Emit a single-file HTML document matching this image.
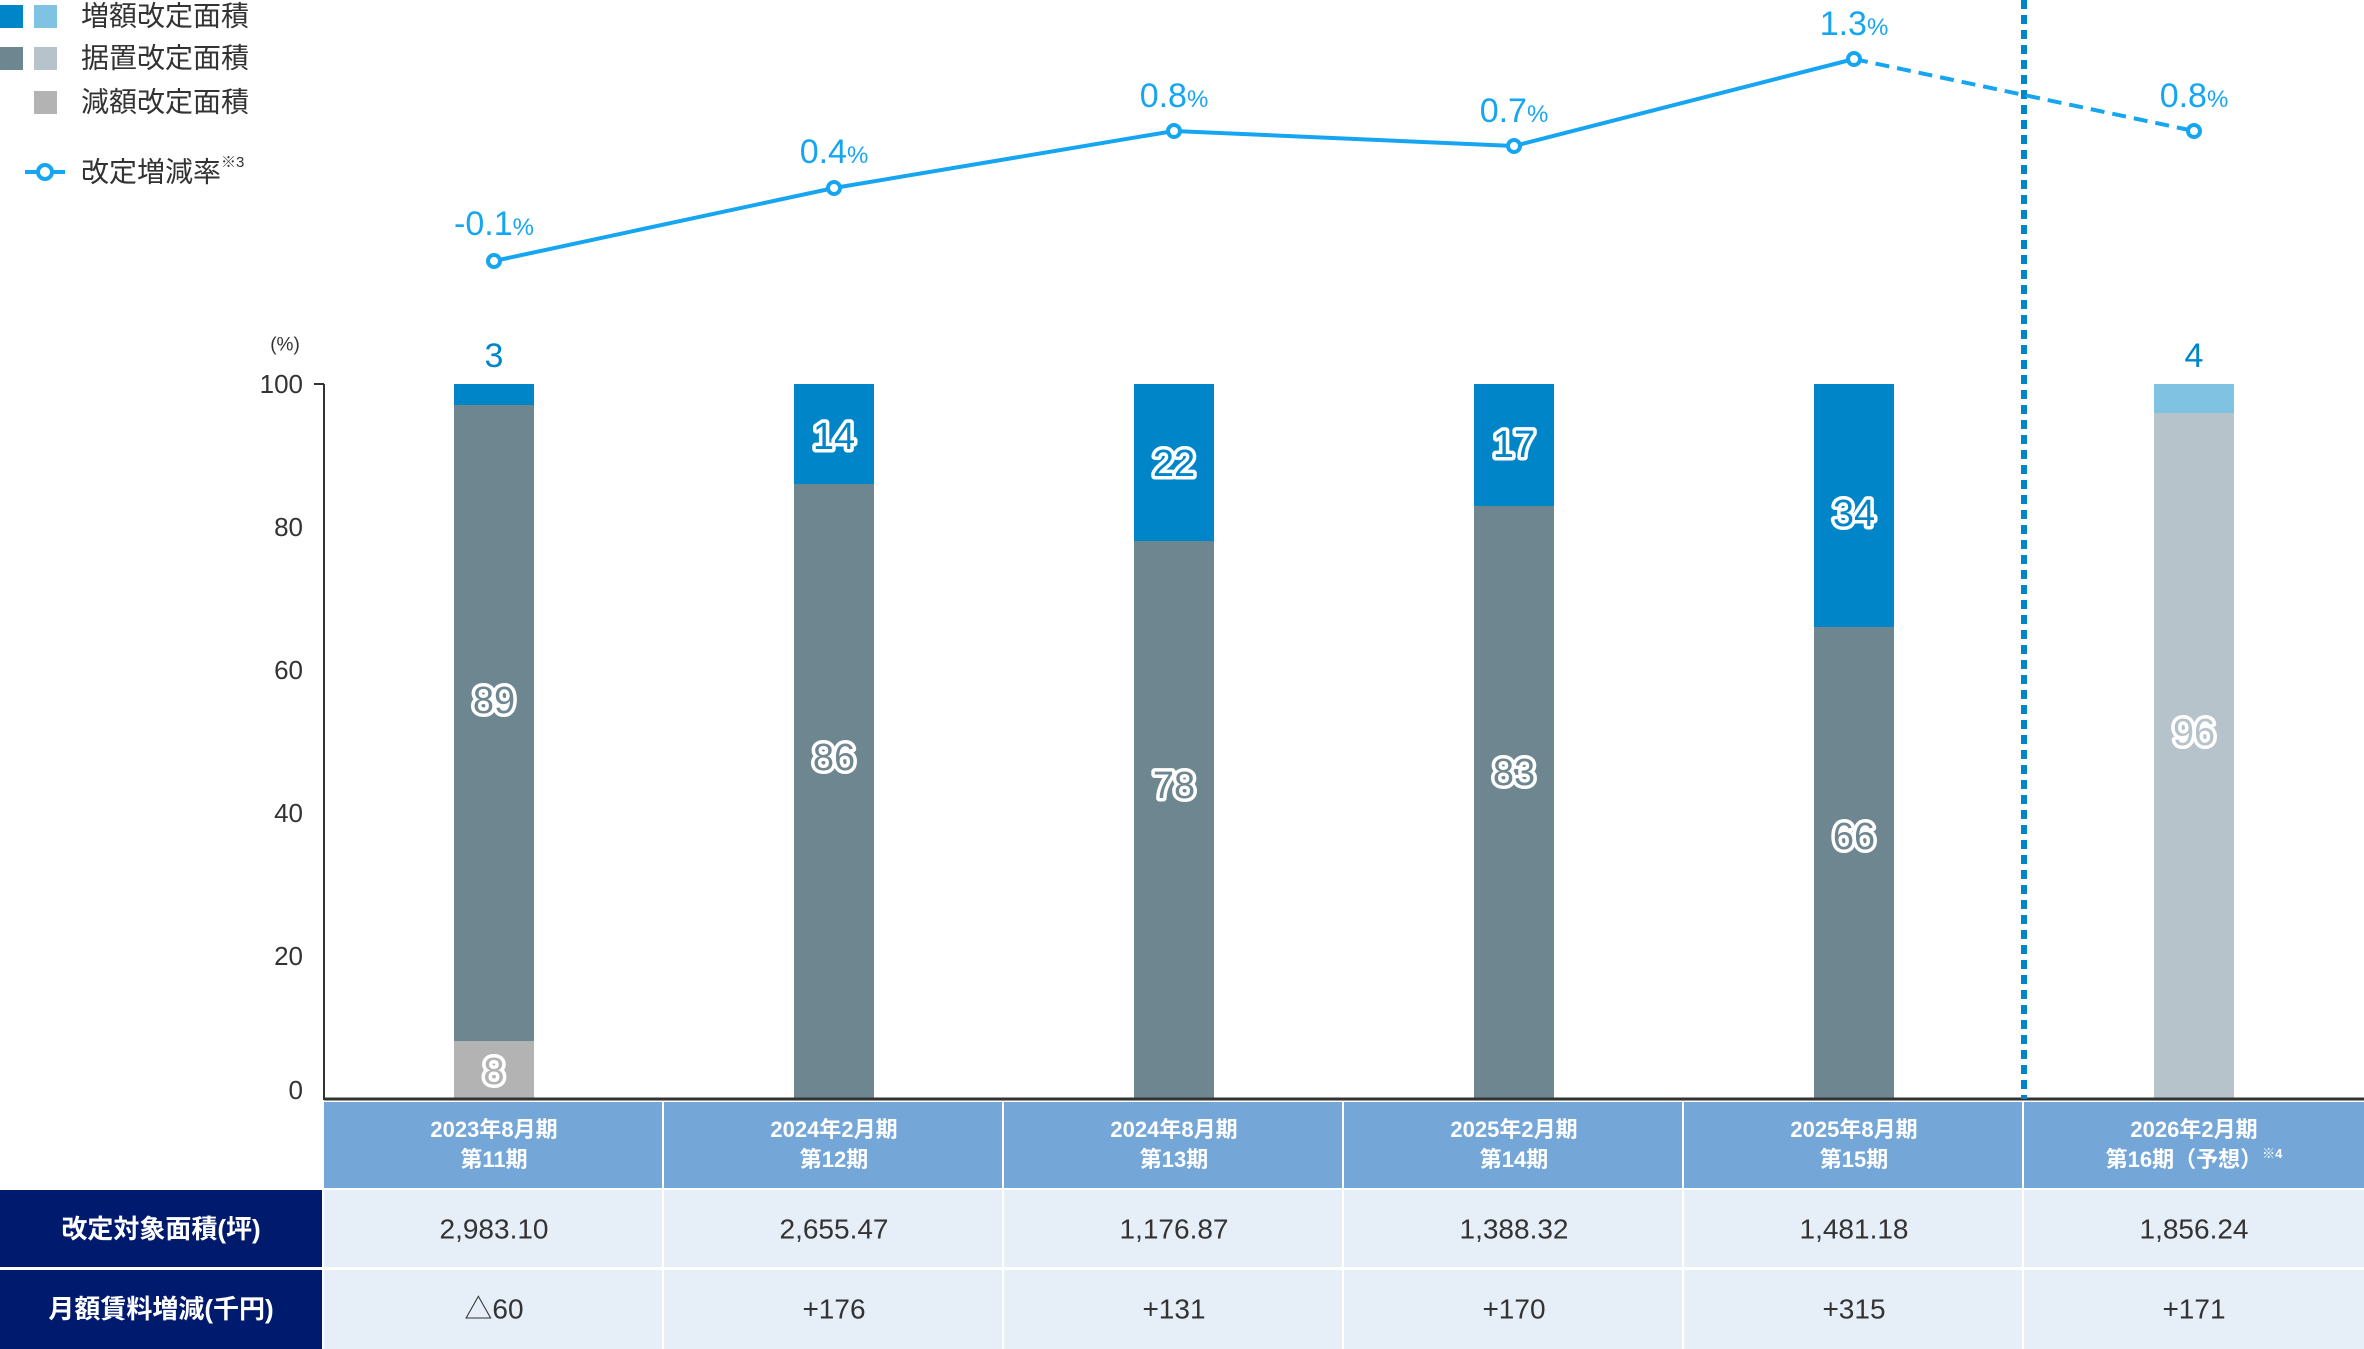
<!DOCTYPE html>
<html><head><meta charset="utf-8"><style>
html,body{margin:0;padding:0;background:#fff}
svg{display:block}
text{font-family:"Liberation Sans","Noto Sans CJK JP",sans-serif}
.lbl{font-size:38px;fill:#6e8690;stroke:#fff;stroke-width:7px;paint-order:stroke;stroke-linejoin:round;text-anchor:middle;dominant-baseline:central}
.lblb{fill:#0085c8}
.pct{font-size:34px;fill:#16a5f0;text-anchor:middle}
.tick{font-size:26px;fill:#333;text-anchor:end;dominant-baseline:central}
.hd{font-size:22px;fill:#fff;text-anchor:middle;font-weight:bold}
.cell{font-size:28px;fill:#333;text-anchor:middle;dominant-baseline:central}
.rl{font-size:26px;fill:#fff;text-anchor:middle;dominant-baseline:central;font-weight:bold}
.leg{font-size:28px;fill:#333;dominant-baseline:central}
</style></head><body>
<svg width="2364" height="1349" viewBox="0 0 2364 1349" xmlns="http://www.w3.org/2000/svg">
<!-- legend -->
<rect x="0" y="5" width="23" height="23" fill="#0085c8"/><rect x="34" y="5" width="23" height="23" fill="#80c2e2"/>
<rect x="0" y="47" width="23" height="23" fill="#6e8690"/><rect x="34" y="47" width="23" height="23" fill="#b7c3ca"/>
<rect x="34" y="91" width="23" height="23" fill="#b3b3b3"/>
<text class="leg" x="81" y="16">増額改定面積</text>
<text class="leg" x="81" y="58">据置改定面積</text>
<text class="leg" x="81" y="102">減額改定面積</text>
<line x1="25" y1="172" x2="65" y2="172" stroke="#16a5f0" stroke-width="4"/>
<circle cx="45" cy="172" r="7" fill="#fff" stroke="#16a5f0" stroke-width="4"/>
<text class="leg" x="81" y="172">改定増減率<tspan font-size="15" dy="-10">※3</tspan></text>

<!-- y axis -->
<text x="285" y="345" font-size="19" fill="#333" text-anchor="middle" dominant-baseline="central">(%)</text>
<text class="tick" x="303" y="384">100</text>
<text class="tick" x="303" y="527">80</text>
<text class="tick" x="303" y="670">60</text>
<text class="tick" x="303" y="813">40</text>
<text class="tick" x="303" y="956">20</text>
<text class="tick" x="303" y="1090">0</text>
<line x1="324" y1="384" x2="324" y2="1100" stroke="#333" stroke-width="2"/>
<line x1="314" y1="384" x2="324" y2="384" stroke="#333" stroke-width="2"/>

<!-- bars -->
<rect x="454" y="384" width="80" height="21" fill="#0085c8"/>
<rect x="454" y="405" width="80" height="636" fill="#6e8690"/>
<rect x="454" y="1041" width="80" height="58" fill="#b3b3b3"/>
<rect x="794" y="384" width="80" height="100" fill="#0085c8"/>
<rect x="794" y="484" width="80" height="615" fill="#6e8690"/>
<rect x="1134" y="384" width="80" height="157" fill="#0085c8"/>
<rect x="1134" y="541" width="80" height="558" fill="#6e8690"/>
<rect x="1474" y="384" width="80" height="122" fill="#0085c8"/>
<rect x="1474" y="506" width="80" height="593" fill="#6e8690"/>
<rect x="1814" y="384" width="80" height="243" fill="#0085c8"/>
<rect x="1814" y="627" width="80" height="472" fill="#6e8690"/>
<rect x="2154" y="384" width="80" height="29" fill="#80c2e2"/>
<rect x="2154" y="413" width="80" height="686" fill="#b7c3ca"/>
<line x1="324" y1="1099" x2="2364" y2="1099" stroke="#333" stroke-width="3"/>

<text class="lbl" x="494" y="701">89</text>
<text class="lbl" x="494" y="1072" style="fill:#b3b3b3">8</text>
<text class="lbl lblb" x="834" y="437">14</text>
<text class="lbl" x="834" y="758">86</text>
<text class="lbl lblb" x="1174" y="464">22</text>
<text class="lbl" x="1174" y="786">78</text>
<text class="lbl lblb" x="1514" y="445">17</text>
<text class="lbl" x="1514" y="773">83</text>
<text class="lbl lblb" x="1854" y="514">34</text>
<text class="lbl" x="1854" y="837">66</text>
<text class="lbl" x="2194" y="733" style="fill:#b7c3ca">96</text>
<text x="494" y="356" font-size="34" fill="#0085c8" text-anchor="middle" dominant-baseline="central">3</text>
<text x="2194" y="356" font-size="34" fill="#0085c8" text-anchor="middle" dominant-baseline="central">4</text>

<!-- dashed divider -->
<line x1="2024" y1="0" x2="2024" y2="1099" stroke="#0085c8" stroke-width="6" stroke-dasharray="9,6"/>

<!-- line -->
<polyline points="494,261 834,188 1174,131 1514,146 1854,59" fill="none" stroke="#16a5f0" stroke-width="4"/>
<line x1="1854" y1="59" x2="2194" y2="131" stroke="#16a5f0" stroke-width="4" stroke-dasharray="14,8"/>
<g fill="#fff" stroke="#16a5f0" stroke-width="4">
<circle cx="494" cy="261" r="6"/><circle cx="834" cy="188" r="6"/><circle cx="1174" cy="131" r="6"/>
<circle cx="1514" cy="146" r="6"/><circle cx="1854" cy="59" r="6"/><circle cx="2194" cy="131" r="6"/>
</g>
<text class="pct" x="494" y="235">-0.1<tspan font-size="24">%</tspan></text>
<text class="pct" x="834" y="163">0.4<tspan font-size="24">%</tspan></text>
<text class="pct" x="1174" y="107">0.8<tspan font-size="24">%</tspan></text>
<text class="pct" x="1514" y="122">0.7<tspan font-size="24">%</tspan></text>
<text class="pct" x="1854" y="35">1.3<tspan font-size="24">%</tspan></text>
<text class="pct" x="2194" y="107">0.8<tspan font-size="24">%</tspan></text>

<!-- table -->
<g fill="#74a6d8">
<rect x="324" y="1102" width="338" height="86"/><rect x="664" y="1102" width="338" height="86"/>
<rect x="1004" y="1102" width="338" height="86"/><rect x="1344" y="1102" width="338" height="86"/>
<rect x="1684" y="1102" width="338" height="86"/><rect x="2024" y="1102" width="340" height="86"/>
</g>
<g fill="#e6eef8">
<rect x="324" y="1190" width="338" height="77"/><rect x="664" y="1190" width="338" height="77"/>
<rect x="1004" y="1190" width="338" height="77"/><rect x="1344" y="1190" width="338" height="77"/>
<rect x="1684" y="1190" width="338" height="77"/><rect x="2024" y="1190" width="340" height="77"/>
<rect x="324" y="1270" width="338" height="79"/><rect x="664" y="1270" width="338" height="79"/>
<rect x="1004" y="1270" width="338" height="79"/><rect x="1344" y="1270" width="338" height="79"/>
<rect x="1684" y="1270" width="338" height="79"/><rect x="2024" y="1270" width="340" height="79"/>
</g>
<rect x="0" y="1190" width="322" height="77" fill="#001a6e"/>
<rect x="0" y="1270" width="322" height="79" fill="#001a6e"/>
<text class="rl" x="161" y="1229">改定対象面積(坪)</text>
<text class="rl" x="161" y="1309">月額賃料増減(千円)</text>

<text class="hd" x="494" y="1137">2023年8月期</text><text class="hd" x="494" y="1167">第11期</text>
<text class="hd" x="834" y="1137">2024年2月期</text><text class="hd" x="834" y="1167">第12期</text>
<text class="hd" x="1174" y="1137">2024年8月期</text><text class="hd" x="1174" y="1167">第13期</text>
<text class="hd" x="1514" y="1137">2025年2月期</text><text class="hd" x="1514" y="1167">第14期</text>
<text class="hd" x="1854" y="1137">2025年8月期</text><text class="hd" x="1854" y="1167">第15期</text>
<text class="hd" x="2194" y="1137">2026年2月期</text><text class="hd" x="2194" y="1167">第16期（予想）<tspan font-size="13" dy="-9">※4</tspan></text>

<text class="cell" x="494" y="1229">2,983.10</text><text class="cell" x="834" y="1229">2,655.47</text>
<text class="cell" x="1174" y="1229">1,176.87</text><text class="cell" x="1514" y="1229">1,388.32</text>
<text class="cell" x="1854" y="1229">1,481.18</text><text class="cell" x="2194" y="1229">1,856.24</text>
<text class="cell" x="494" y="1309">△60</text><text class="cell" x="834" y="1309">+176</text>
<text class="cell" x="1174" y="1309">+131</text><text class="cell" x="1514" y="1309">+170</text>
<text class="cell" x="1854" y="1309">+315</text><text class="cell" x="2194" y="1309">+171</text>
</svg>
</body></html>
